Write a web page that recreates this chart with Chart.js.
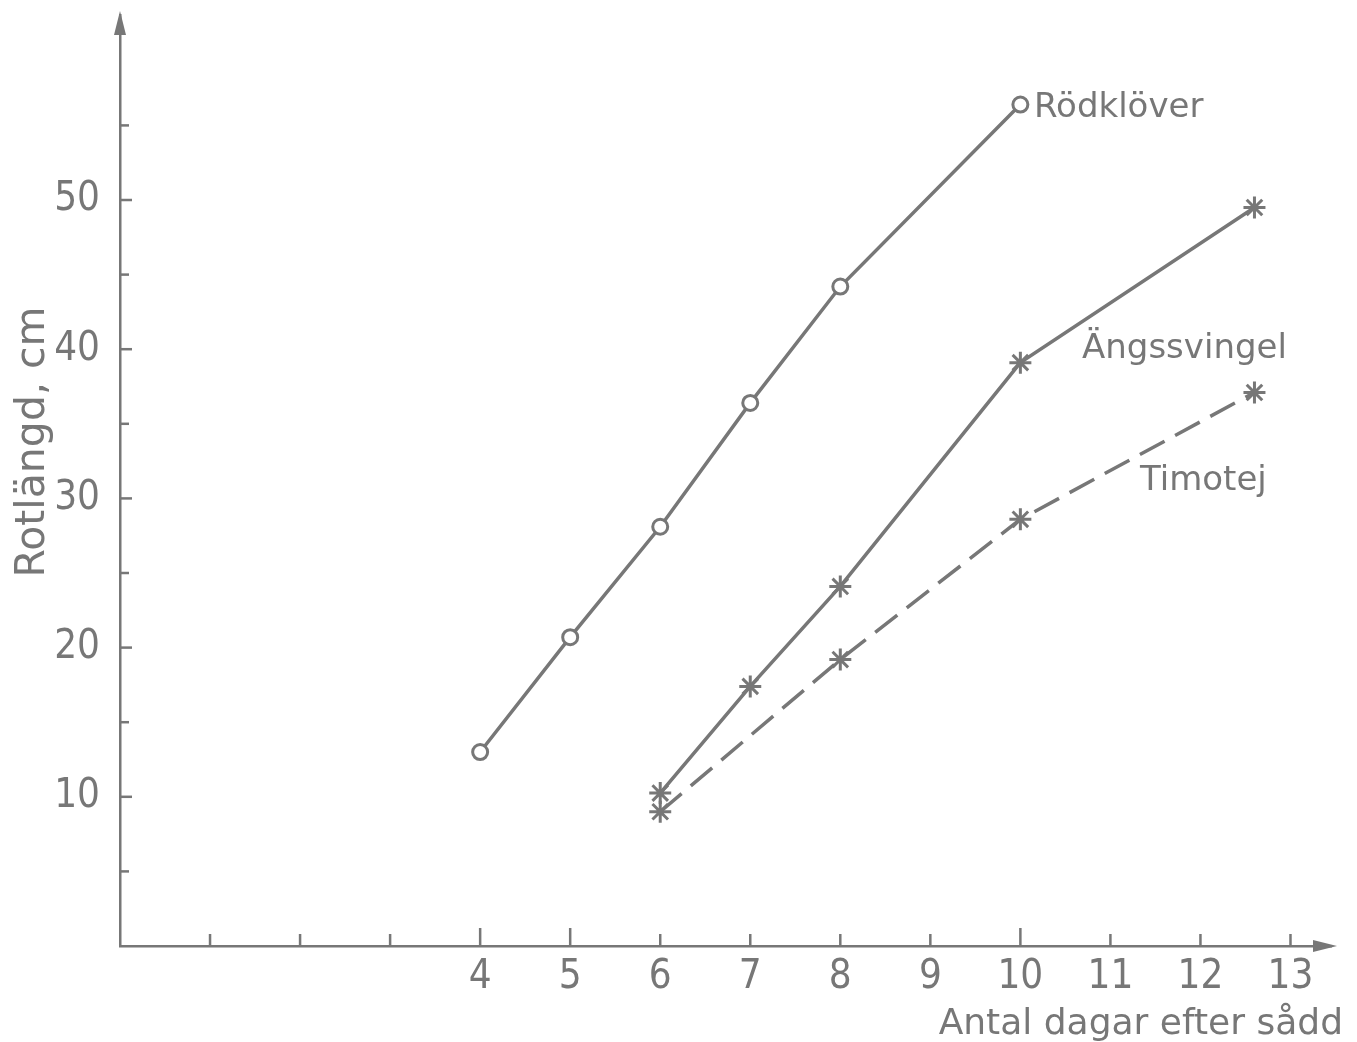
<!DOCTYPE html>
<html>
<head>
<meta charset="utf-8">
<title>Rotlängd</title>
<script src="https://cdn.jsdelivr.net/npm/chart.js@4.4.1/dist/chart.umd.min.js"></script>
<style>
  html, body { margin: 0; padding: 0; background: #fff; }
  #wrap { width: 1357px; height: 1042px; }
</style>
</head>
<body>
<div id="wrap"><canvas id="rootChart" width="1357" height="1042"></canvas></div>
<script>
// days after sowing / root length in cm
const rodkloverDays = [4, 5, 6, 7, 8, 10];
const rodkloverLength = [13.0, 20.7, 28.1, 36.4, 44.2, 56.4];

const angssvingelDays = [6, 7, 8, 10, 12.6];
const angssvingelLength = [10.25, 17.4, 24.1, 39.1, 49.5];

const timotejDays = [6, 8, 10, 12.6];
const timotejLength = [9.0, 19.2, 28.6, 37.1];

const xTickValues = [1, 2, 3, 4, 5, 6, 7, 8, 9, 10, 11, 12, 13];
const xTickLabels = [4, 5, 6, 7, 8, 9, 10, 11, 12, 13];
const yTickValues = [5, 10, 15, 20, 25, 30, 35, 40, 45, 50, 55];
const yTickLabels = [10, 20, 30, 40, 50];

const ink = '#777777';
const tickFont = '"Liberation Sans Narrow", "DejaVu Sans Condensed", "Roboto Condensed", Roboto, sans-serif';
const textFont = '"DejaVu Sans", "Noto Sans", sans-serif';

function toPoints(xs, ys) {
    return xs.map((d, i) => ({ x: d, y: ys[i] }));
}

function line(ctx, x1, y1, x2, y2) {
    ctx.beginPath();
    ctx.moveTo(x1, y1);
    ctx.lineTo(x2, y2);
    ctx.stroke();
}

// tick marks inside the axes, arrow heads, curve names and axis titles
const axisDecor = {
    id: 'axisDecor',
    afterDraw(chart) {
        const { ctx, scales: { x, y } } = chart;
        const x0 = x.getPixelForValue(0);
        const y0 = y.getPixelForValue(0);
        ctx.save();
        ctx.strokeStyle = ink;
        ctx.fillStyle = ink;
        ctx.lineWidth = 2.5;

        yTickValues.forEach(v => {
            const py = y.getPixelForValue(v);
            line(ctx, x0, py, x0 + (v % 10 === 0 ? 12 : 9), py);
        });
        xTickValues.forEach(d => {
            const px = x.getPixelForValue(d);
            const len = (d === 4 || d === 5 || d === 10) ? 18 : 12;
            line(ctx, px, y0, px, y0 - len);
        });

        // arrows
        const yTop = chart.chartArea.top;
        ctx.beginPath();
        ctx.moveTo(x0, yTop - 4);
        ctx.lineTo(x0 - 6, yTop + 20);
        ctx.lineTo(x0 + 6, yTop + 20);
        ctx.closePath();
        ctx.fill();
        const xEnd = chart.chartArea.right;
        ctx.beginPath();
        ctx.moveTo(xEnd + 6, y0);
        ctx.lineTo(xEnd - 18, y0 - 6);
        ctx.lineTo(xEnd - 18, y0 + 6);
        ctx.closePath();
        ctx.fill();

        // curve names
        ctx.font = '34px ' + textFont;
        ctx.textAlign = 'left';
        ctx.textBaseline = 'alphabetic';
        ctx.fillText('Rödklöver', 1034, 117);
        ctx.fillText('Ängssvingel', 1082, 358);
        ctx.fillText('Timotej', 1140, 490);

        // axis titles
        ctx.font = '36px ' + textFont;
        ctx.textAlign = 'right';
        ctx.fillText('Antal dagar efter sådd', 1343, 1034);

        ctx.save();
        ctx.translate(44, 442);
        ctx.rotate(-Math.PI / 2);
        ctx.textAlign = 'center';
        ctx.font = '41px ' + textFont;
        ctx.fillText('Rotlängd, cm', 0, 0);
        ctx.restore();

        ctx.restore();
    }
};

const rootChart = document.getElementById('rootChart');

new Chart(rootChart, {
    type: 'line',
    data: {
        datasets: [{
            label: 'Rödklöver',
            data: toPoints(rodkloverDays, rodkloverLength),
            borderColor: ink,
            borderWidth: 3.5,
            pointStyle: 'circle',
            pointRadius: 7.5,
            pointBackgroundColor: '#fff',
            pointBorderColor: ink,
            pointBorderWidth: 3
        }, {
            label: 'Ängssvingel',
            data: toPoints(angssvingelDays, angssvingelLength),
            borderColor: ink,
            borderWidth: 3.5,
            pointStyle: 'star',
            pointRadius: 11,
            pointBorderColor: ink,
            pointBorderWidth: 3
        }, {
            label: 'Timotej',
            data: toPoints(timotejDays, timotejLength),
            borderColor: ink,
            borderWidth: 3.5,
            borderDash: [28, 12],
            pointStyle: 'star',
            pointRadius: 11,
            pointBorderColor: ink,
            pointBorderWidth: 3
        }]
    },
    options: {
        responsive: false,
        animation: false,
        layout: { padding: { top: 15, right: 26, left: 0, bottom: 0 } },
        plugins: {
            legend: { display: false },
            tooltip: { enabled: false }
        },
        scales: {
            x: {
                type: 'linear',
                min: 0,
                max: 13.45,
                afterBuildTicks(scale) { scale.ticks = xTickValues.map(v => ({ value: v })); },
                afterFit(scale) {
                    scale.height = 96;
                    scale.paddingLeft = 0;
                    scale.paddingRight = 0;
                },
                grid: { display: false, drawTicks: false },
                border: { display: true, color: ink, width: 2.5 },
                ticks: {
                    autoSkip: false,
                    maxRotation: 0,
                    padding: 8,
                    color: ink,
                    font: { family: tickFont, size: 40 },
                    callback: v => xTickLabels.includes(v) ? String(v) : ''
                }
            },
            y: {
                type: 'linear',
                min: 0,
                max: 62.4,
                afterBuildTicks(scale) { scale.ticks = yTickValues.map(v => ({ value: v })); },
                afterFit(scale) {
                    scale.width = 120;
                    scale.paddingTop = 0;
                    scale.paddingBottom = 0;
                },
                grid: { display: false, drawTicks: false },
                border: { display: true, color: ink, width: 2.5 },
                ticks: {
                    autoSkip: false,
                    padding: 20,
                    color: ink,
                    font: { family: tickFont, size: 40 },
                    callback: v => yTickLabels.includes(v) ? String(v) : ''
                }
            }
        }
    },
    plugins: [axisDecor]
});
</script>
</body>
</html>
